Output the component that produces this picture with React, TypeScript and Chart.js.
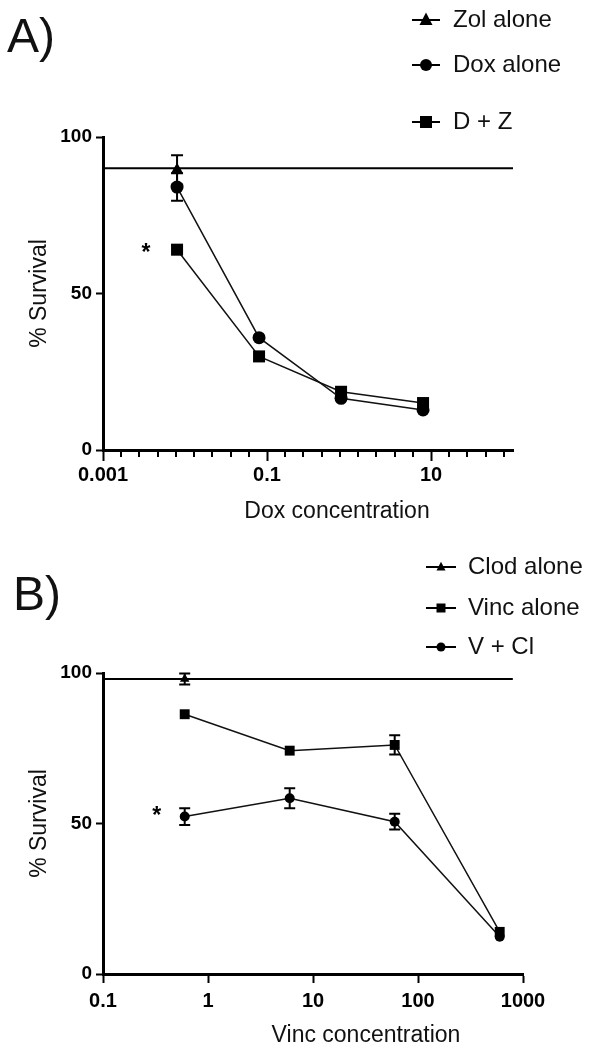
import React, { useEffect, useRef } from 'react';
import { Chart, registerables } from 'chart.js';

Chart.register(...registerables);

const FONT = "'Liberation Sans', Arial, Helvetica, sans-serif";
Chart.defaults.font.family = FONT;

// ---------------- Panel A data ----------------
const concA = [0.008, 0.08, 0.8, 8];
const zolAloneA = [89.5];
const zolAloneErrA = [4.7];
const doxAloneA = [84, 35.9, 16.5, 12.8];
const doxAloneErrA = [4.4, 0, 0, 0];
const dzA = [64, 29.9, 18.6, 15];
const dzErrA = [0, 0, 0, 0];
const refLineA = 90;
const refSpanA = [0.001, 100];
const xRangeA = [0.001, 100];
const xTickValuesA = [0.001, 0.1, 10];
const xTickLabelsA = ['0.001', '0.1', '10'];
const legendLabelsA = ['Zol alone', 'Dox alone', 'D + Z'];
const xTitleA = 'Dox concentration';

// ---------------- Panel B data ----------------
const concB = [0.6, 6, 60, 600];
const clodAloneB = [98];
const clodAloneErrB = [1.8];
const vincAloneB = [86.3, 74.2, 76.1, 14];
const vincAloneErrB = [0, 0, 3.2, 0];
const vclB = [52.3, 58.4, 50.6, 12.4];
const vclErrB = [2.8, 3.3, 2.6, 0];
const refLineB = 98;
const refSpanB = [0.1, 800];
const xRangeB = [0.1, 1000];
const xTickValuesB = [0.1, 1, 10, 100, 1000];
const xTickLabelsB = ['0.1', '1', '10', '100', '1000'];
const legendLabelsB = ['Clod alone', 'Vinc alone', 'V + Cl'];
const xTitleB = 'Vinc concentration';

// shared
const yTickValues = [0, 50, 100];
const yTickLabels = ['0', '50', '100'];
const yTitle = '% Survival';

function drawMarker(ctx: CanvasRenderingContext2D, style: string, x: number, y: number, size: number) {
  ctx.beginPath();
  if (style === 'triangle') {
    const h = size * 0.95;
    ctx.moveTo(x, y - h * 0.6);
    ctx.lineTo(x + size / 2, y + h * 0.4);
    ctx.lineTo(x - size / 2, y + h * 0.4);
    ctx.closePath();
  } else if (style === 'rect') {
    ctx.rect(x - size / 2, y - size / 2, size, size);
  } else {
    ctx.arc(x, y, size / 2, 0, Math.PI * 2);
  }
  ctx.fill();
}

function labelFor(values: number[], labels: string[], v: number) {
  const i = values.findIndex((t) => Math.abs(Math.log10(t) - Math.log10(v)) < 1e-6);
  return i >= 0 ? labels[i] : '';
}

function makeDataset(label: string, xs: number[], ys: number[], errs: number[], style: string, radius: number) {
  return {
    label,
    data: ys.map((y, i) => ({ x: xs[i], y })),
    errors: errs,
    inLegend: true,
    pointStyle: style,
    pointRadius: radius,
    pointBorderWidth: 0,
    pointBackgroundColor: '#000',
    borderColor: '#111',
    backgroundColor: '#000',
    borderWidth: 1.5,
    showLine: true,
    tension: 0,
    clip: false,
  };
}

function makeRef(y: number, span: number[]) {
  return {
    label: 'ref',
    data: [{ x: span[0], y }, { x: span[1], y }],
    inLegend: false,
    pointRadius: 0,
    borderColor: '#000',
    borderWidth: 2,
    showLine: true,
    clip: false,
  };
}

type Decor = {
  id: string;
  capHalf: number;
  minorTicks: number[];
  xTitle: string;
  xTitleDx: number;
  xTitleDy: number;
  legendYs: number[];
  legendLine: number[];
  legendMarkerX: number;
  legendTextX: number;
  legendSizes: number[];
  panelLabel: string;
  panelLabelPos: number[];
  starDataset: number;
  starOffset: number[];
};

function decorPlugin(p: Decor) {
  return {
    id: 'decor' + p.id,
    afterDatasetsDraw(chart: any) {
      const ctx: CanvasRenderingContext2D = chart.ctx;
      const ys = chart.scales.y;
      chart.data.datasets.forEach((ds: any, i: number) => {
        const errs = ds.errors;
        if (!errs) return;
        const meta = chart.getDatasetMeta(i);
        ctx.save();
        ctx.strokeStyle = '#000';
        ctx.lineWidth = 2;
        meta.data.forEach((el: any, j: number) => {
          const e = errs[j];
          if (!e) return;
          const v = ds.data[j].y;
          const top = ys.getPixelForValue(v + e);
          const bot = ys.getPixelForValue(v - e);
          const x = el.x;
          ctx.beginPath();
          ctx.moveTo(x, top);
          ctx.lineTo(x, bot);
          ctx.moveTo(x - p.capHalf, top);
          ctx.lineTo(x + p.capHalf, top);
          ctx.moveTo(x - p.capHalf, bot);
          ctx.lineTo(x + p.capHalf, bot);
          ctx.stroke();
        });
        ctx.restore();
      });
    },
    afterDraw(chart: any) {
      const ctx: CanvasRenderingContext2D = chart.ctx;
      const area = chart.chartArea;
      const xs = chart.scales.x;
      ctx.save();
      // minor ticks
      ctx.strokeStyle = '#000';
      ctx.lineWidth = 2;
      p.minorTicks.forEach((v) => {
        const x = Math.round(xs.getPixelForValue(v));
        ctx.beginPath();
        ctx.moveTo(x, area.bottom + 1);
        ctx.lineTo(x, area.bottom + 7);
        ctx.stroke();
      });
      // x title
      ctx.fillStyle = '#111';
      ctx.font = `23px ${FONT}`;
      ctx.textAlign = 'center';
      ctx.textBaseline = 'alphabetic';
      ctx.fillText(p.xTitle, area.left + p.xTitleDx, area.bottom + p.xTitleDy);
      // legend
      let k = 0;
      chart.data.datasets.forEach((ds: any) => {
        if (!ds.inLegend) return;
        const y = p.legendYs[k];
        ctx.strokeStyle = '#000';
        ctx.lineWidth = 2;
        ctx.beginPath();
        ctx.moveTo(p.legendLine[0], y);
        ctx.lineTo(p.legendLine[1], y);
        ctx.stroke();
        ctx.fillStyle = '#000';
        drawMarker(ctx, ds.pointStyle, p.legendMarkerX, y, p.legendSizes[k]);
        ctx.fillStyle = '#111';
        ctx.font = `24px ${FONT}`;
        ctx.textAlign = 'left';
        ctx.textBaseline = 'middle';
        ctx.fillText(ds.label, p.legendTextX, y);
        k++;
      });
      // panel label
      ctx.fillStyle = '#111';
      ctx.font = `48px ${FONT}`;
      ctx.textAlign = 'left';
      ctx.textBaseline = 'alphabetic';
      ctx.fillText(p.panelLabel, p.panelLabelPos[0], p.panelLabelPos[1]);
      // significance asterisk next to first combination point
      const el = chart.getDatasetMeta(p.starDataset).data[0];
      if (el) {
        ctx.fillStyle = '#000';
        ctx.font = `bold 23px ${FONT}`;
        ctx.textAlign = 'center';
        ctx.textBaseline = 'middle';
        ctx.fillText('*', el.x + p.starOffset[0], el.y + p.starOffset[1] + 5);
      }
      ctx.restore();
    },
  };
}

function buildConfig(opts: {
  datasets: any[];
  xRange: number[];
  xTickValues: number[];
  xTickLabels: string[];
  padding: { top: number; right: number };
  xHeight: number;
  xTickLength: number;
  xTickPadding: number;
  decor: Decor;
}) {
  return {
    type: 'line',
    data: { datasets: opts.datasets },
    plugins: [decorPlugin(opts.decor)],
    options: {
      responsive: false,
      maintainAspectRatio: false,
      animation: false,
      devicePixelRatio: 1,
      events: [],
      layout: { padding: { left: 0, top: opts.padding.top, right: opts.padding.right, bottom: 0 } },
      plugins: { legend: { display: false }, tooltip: { enabled: false } },
      scales: {
        x: {
          type: 'logarithmic',
          min: opts.xRange[0],
          max: opts.xRange[1],
          afterBuildTicks: (s: any) => {
            s.ticks = opts.xTickValues.map((v) => ({ value: v }));
          },
          afterFit: (s: any) => {
            s.height = opts.xHeight;
          },
          ticks: {
            autoSkip: false,
            maxRotation: 0,
            minRotation: 0,
            padding: opts.xTickPadding,
            color: '#000',
            font: { size: 20, weight: 'bold' },
            callback: (v: number) => labelFor(opts.xTickValues, opts.xTickLabels, v),
          },
          grid: {
            display: true,
            drawOnChartArea: false,
            drawTicks: true,
            tickLength: opts.xTickLength,
            tickWidth: 2,
            tickColor: '#000',
          },
          border: { display: true, color: '#000', width: 3 },
        },
        y: {
          type: 'linear',
          min: 0,
          max: 100,
          afterBuildTicks: (s: any) => {
            s.ticks = yTickValues.map((v) => ({ value: v }));
          },
          afterFit: (s: any) => {
            s.width = 103;
          },
          ticks: {
            padding: 4,
            color: '#000',
            font: { size: 19, weight: 'bold' },
            callback: (v: number) => {
              const i = yTickValues.indexOf(v);
              return i >= 0 ? yTickLabels[i] : '';
            },
          },
          grid: {
            display: true,
            drawOnChartArea: false,
            drawTicks: true,
            tickLength: 7,
            tickWidth: 2,
            tickColor: '#000',
          },
          border: { display: true, color: '#000', width: 3 },
          title: {
            display: true,
            text: yTitle,
            color: '#111',
            font: { size: 23 },
            padding: { top: 26, bottom: 0 },
          },
        },
      },
    },
  };
}

function minorLogTicks(range: number[], stepsPerTwoDecades: number) {
  const out: number[] = [];
  const lo = Math.log10(range[0]);
  const hi = Math.log10(range[1]);
  for (let k = 1; lo + (k * 2) / stepsPerTwoDecades < hi - 1e-6; k++) {
    if (k % stepsPerTwoDecades === 0) continue;
    out.push(Math.pow(10, lo + (k * 2) / stepsPerTwoDecades));
  }
  return out;
}

function configA() {
  return buildConfig({
    datasets: [
      makeDataset(legendLabelsA[0], concA.slice(0, zolAloneA.length), zolAloneA, zolAloneErrA, 'triangle', 7),
      makeDataset(legendLabelsA[1], concA, doxAloneA, doxAloneErrA, 'circle', 6.5),
      makeDataset(legendLabelsA[2], concA, dzA, dzErrA, 'rect', 8.5),
      makeRef(refLineA, refSpanA),
    ],
    xRange: xRangeA,
    xTickValues: xTickValuesA,
    xTickLabels: xTickLabelsA,
    padding: { top: 137, right: 80 },
    xHeight: 75,
    xTickLength: 11,
    xTickPadding: 2,
    decor: {
      id: 'A',
      capHalf: 6,
      minorTicks: minorLogTicks(xRangeA, 9),
      xTitle: xTitleA,
      xTitleDx: 234,
      xTitleDy: 68,
      legendYs: [20, 65, 122],
      legendLine: [412, 440],
      legendMarkerX: 426,
      legendTextX: 453,
      legendSizes: [13, 12, 12],
      panelLabel: 'A)',
      panelLabelPos: [7, 52],
      starDataset: 2,
      starOffset: [-31, -1],
    },
  });
}

function configB() {
  return buildConfig({
    datasets: [
      makeDataset(legendLabelsB[0], concB.slice(0, clodAloneB.length), clodAloneB, clodAloneErrB, 'triangle', 5.5),
      makeDataset(legendLabelsB[1], concB, vincAloneB, vincAloneErrB, 'rect', 7),
      makeDataset(legendLabelsB[2], concB, vclB, vclErrB, 'circle', 5),
      makeRef(refLineB, refSpanB),
    ],
    xRange: xRangeB,
    xTickValues: xTickValuesB,
    xTickLabels: xTickLabelsB,
    padding: { top: 148, right: 70 },
    xHeight: 76,
    xTickLength: 9,
    xTickPadding: 6,
    decor: {
      id: 'B',
      capHalf: 5.5,
      minorTicks: [],
      xTitle: xTitleB,
      xTitleDx: 263,
      xTitleDy: 68,
      legendYs: [42, 83, 122],
      legendLine: [426, 456],
      legendMarkerX: 441,
      legendTextX: 468,
      legendSizes: [9, 9, 9],
      panelLabel: 'B)',
      panelLabelPos: [13, 85],
      starDataset: 2,
      starOffset: [-28, -5],
    },
  });
}

function Panel({ make, top }: { make: () => any; top: number }) {
  const ref = useRef<HTMLCanvasElement>(null);
  useEffect(() => {
    const chart = new Chart(ref.current as HTMLCanvasElement, make());
    return () => chart.destroy();
  }, []);
  return (
    <canvas
      ref={ref}
      width={593}
      height={525}
      style={{ position: 'absolute', left: 0, top, width: 593, height: 525 }}
    />
  );
}

export default function App() {
  return (
    <div style={{ position: 'absolute', left: 0, top: 0, width: 593, height: 1050, background: '#fff' }}>
      <Panel make={configA} top={0} />
      <Panel make={configB} top={525} />
    </div>
  );
}
